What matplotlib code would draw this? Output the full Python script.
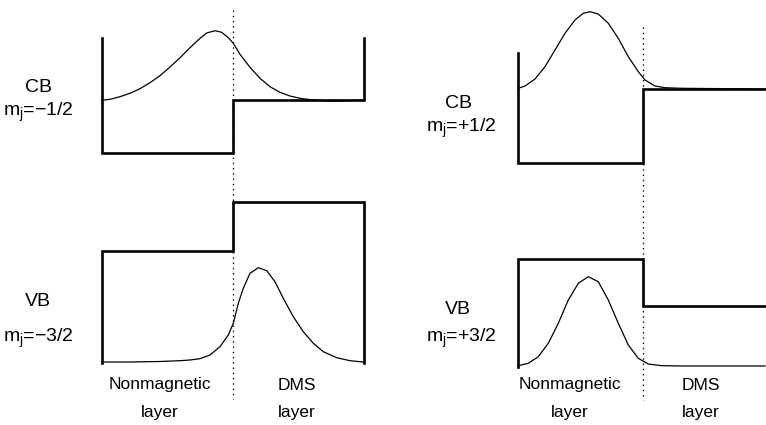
import matplotlib
matplotlib.use("Agg")
import matplotlib.pyplot as plt

plt.rcParams['font.family'] = ['Liberation Sans', 'DejaVu Sans']
plt.rcParams['mathtext.fontset'] = 'custom'
plt.rcParams['mathtext.rm'] = 'Liberation Sans'
plt.rcParams['mathtext.it'] = 'Liberation Sans'

# band edge profiles (figure pixel coords, y down)
cb_left_x = [102, 102, 233, 233, 364, 364]
cb_left_y = [38, 153, 153, 100, 100, 38]
vb_left_x = [364, 364, 233, 233, 102, 102]
vb_left_y = [363, 202, 202, 251, 251, 363]
cb_right_x = [518, 518, 643, 643, 766]
cb_right_y = [53, 163, 163, 89, 89]
vb_right_x = [518, 518, 643, 643, 766]
vb_right_y = [367, 259, 259, 306, 306]

# envelope wavefunctions
psi_cb_left_x = [102, 110, 120, 130, 140, 150, 160, 170, 180, 190, 200, 206.7,
                 215, 221.7, 228.3, 233.3, 240, 250, 260, 270, 280, 290, 300,
                 313, 326.7, 340, 364]
psi_cb_left_y = [100.3, 99.3, 96.7, 93.3, 88.7, 82.7, 75.7, 67, 57.7, 47.7, 38.3, 33,
                 30.7, 32.3, 37.7, 43.3, 54.3, 67.3, 78.3, 86.7, 92.3, 96, 98.3,
                 100, 101, 101, 100]
psi_vb_left_x = [102, 130, 160, 180, 190, 200, 210, 220, 228.3, 233.3, 238.3,
                 243.3, 250, 258.3, 266.7, 275, 283.3, 293.3, 303.3, 313.3,
                 323.3, 336.7, 350, 363.3]
psi_vb_left_y = [362, 362, 361.5, 360.7, 360, 358.7, 355, 346.7, 335, 323.3, 303.3,
                 288.3, 273.3, 267.7, 270.7, 281.7, 298.3, 316.7, 331.7, 343.3,
                 351.7, 357.7, 360.7, 362]
psi_cb_right_x = [518.3, 525, 535, 545, 555, 565, 575, 583.3, 590, 598.3, 608.3,
                  618.3, 628.3, 638.3, 645, 655, 665, 681.7, 765]
psi_cb_right_y = [88.3, 86, 79, 66.7, 50, 33.3, 20, 13.3, 11.7, 14, 23.3,
                  38.3, 56.7, 71.7, 80, 86, 87.7, 88.3, 89]
psi_vb_right_x = [518.3, 528.3, 538.3, 548.3, 558.3, 568.3, 578.3, 588.3, 598.3,
                  608.3, 618.3, 628.3, 638.3, 648.3, 661.7, 685, 765]
psi_vb_right_y = [365.7, 363.3, 356.7, 343.3, 323.3, 300, 283.3, 276.7, 281.7,
                  300, 323.3, 345, 358.3, 364, 365.7, 366, 366]

interface_x = [233, 643]
interface_top = [10, 27]
interface_bottom = [399, 400]

band_labels = [(38, 87, 'CB'), (38, 112, 'm$_{\\mathregular{j}}$=−1/2'),
               (38, 302, 'VB'), (38, 338, 'm$_{\\mathregular{j}}$=−3/2'),
               (458, 103, 'CB'), (461, 128, 'm$_{\\mathregular{j}}$=+1/2'),
               (458, 309, 'VB'), (461, 338, 'm$_{\\mathregular{j}}$=+3/2')]
layer_labels = [(160, 'Nonmagnetic'), (297, 'DMS'), (570, 'Nonmagnetic'), (701, 'DMS')]

fig = plt.figure(figsize=(7.66, 4.25), dpi=100)
ax = fig.add_axes([0, 0, 1, 1])
ax.set_xlim(0, 766)
ax.set_ylim(425, 0)
ax.axis('off')

for xs, ys in [(cb_left_x, cb_left_y), (vb_left_x, vb_left_y),
               (cb_right_x, cb_right_y), (vb_right_x, vb_right_y)]:
    ax.plot(xs, ys, color='black', lw=1.9, solid_joinstyle='miter')

for xs, ys in [(psi_cb_left_x, psi_cb_left_y), (psi_vb_left_x, psi_vb_left_y),
               (psi_cb_right_x, psi_cb_right_y), (psi_vb_right_x, psi_vb_right_y)]:
    ax.plot(xs, ys, color='black', lw=0.9, solid_joinstyle='round')

for x, y0, y1 in zip(interface_x, interface_top, interface_bottom):
    ax.plot([x, x], [y0, y1], color='black', lw=0.9, ls=(0, (1.2, 3)))

for x, y, s in band_labels:
    ax.text(x, y, s, ha='center', va='center', fontsize=14)

for x, s in layer_labels:
    ax.text(x, 385, s, ha='center', va='center', fontsize=12.5)
    ax.text(x, 412, 'layer', ha='center', va='center', fontsize=12.5)

fig.savefig('out.png', dpi=100)
